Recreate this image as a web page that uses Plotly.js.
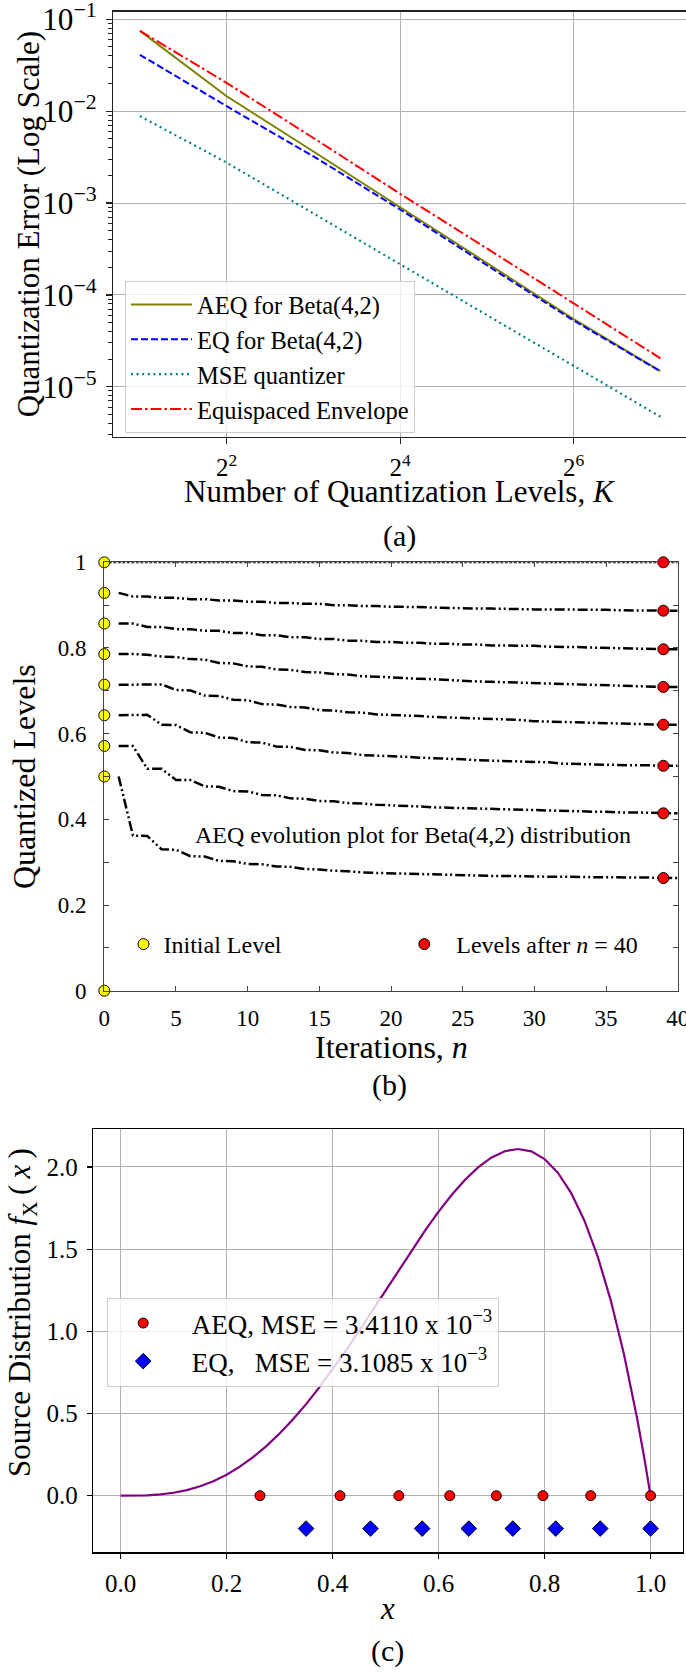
<!DOCTYPE html>
<html><head><meta charset="utf-8">
<script src="https://cdn.plot.ly/plotly-3.0.1.min.js"></script>
<style>html,body{margin:0;padding:0;background:#fff}</style>
</head><body><div id="chart" style="width:686px;height:1673px"></div>
<script>
// ---------- Panel (a): quantization error vs K ----------
const levelsK = [2, 4, 8, 16, 32, 64, 128];
const aeqError = [0.0748, 0.01453, 3.64e-3, 8.9e-4, 2.22e-4, 5.45e-5, 1.48e-5];
const eqError = [0.0411, 0.01132, 3.22e-3, 8.5e-4, 2.1e-4, 5.25e-5, 1.47e-5];
const mseError = [8.83e-3, 2.75e-3, 7.7e-4, 2.16e-4, 6.1e-5, 1.68e-5, 4.71e-6];
const envelopeError = [0.0748, 0.0203, 5.1e-3, 1.26e-3, 3.2e-4, 8.15e-5, 2.04e-5];
const kTickVals = [4, 16, 64];
const kTickText = ['2<sup>2</sup>', '2<sup>4</sup>', '2<sup>6</sup>'];
const legendA = ['AEQ for Beta(4,2)', 'EQ for Beta(4,2)', 'MSE quantizer', 'Equispaced Envelope'];

// ---------- Panel (b): AEQ evolution ----------
const iterations = [1,2,3,4,5,6,7,8,9,10,11,12,13,14,15,16,17,18,19,20,21,22,23,24,25,26,27,28,29,30,31,32,33,34,35,36,37,38,39,40];
const iterationsTop = [0,1,2,3,4,5,6,7,8,9,10,11,12,13,14,15,16,17,18,19,20,21,22,23,24,25,26,27,28,29,30,31,32,33,34,35,36,37,38,39,40];
const levelTop = [1,1,1,1,1,1,1,1,1,1,1,1,1,1,1,1,1,1,1,1,1,1,1,1,1,1,1,1,1,1,1,1,1,1,1,1,1,1,1,1,1];
const levelA = [0.9286,0.920,0.920,0.917,0.917,0.914,0.914,0.911,0.911,0.908,0.908,0.905,0.905,0.903,0.903,0.900,0.900,0.898,0.898,0.896,0.896,0.895,0.895,0.893,0.893,0.892,0.892,0.891,0.891,0.890,0.890,0.890,0.889,0.889,0.889,0.888,0.888,0.887,0.887,0.887];
const levelB = [0.857,0.857,0.849,0.849,0.844,0.844,0.840,0.840,0.835,0.835,0.830,0.830,0.825,0.825,0.821,0.821,0.817,0.817,0.814,0.814,0.812,0.812,0.810,0.810,0.808,0.808,0.806,0.806,0.805,0.805,0.803,0.803,0.802,0.801,0.800,0.799,0.798,0.798,0.797,0.797];
const levelC = [0.786,0.786,0.784,0.780,0.779,0.774,0.773,0.765,0.764,0.757,0.756,0.750,0.749,0.744,0.743,0.739,0.738,0.734,0.733,0.731,0.730,0.728,0.727,0.725,0.724,0.722,0.721,0.720,0.719,0.717,0.716,0.715,0.714,0.713,0.713,0.712,0.711,0.710,0.709,0.709];
const levelD = [0.714,0.714,0.715,0.715,0.702,0.701,0.689,0.688,0.679,0.678,0.669,0.668,0.662,0.661,0.655,0.654,0.650,0.649,0.645,0.644,0.642,0.641,0.639,0.638,0.637,0.636,0.634,0.633,0.632,0.629,0.628,0.627,0.626,0.625,0.624,0.623,0.623,0.622,0.621,0.621];
const levelE = [0.643,0.644,0.644,0.621,0.620,0.603,0.602,0.591,0.590,0.580,0.579,0.570,0.569,0.562,0.561,0.556,0.555,0.550,0.549,0.547,0.546,0.544,0.543,0.541,0.540,0.538,0.537,0.536,0.535,0.534,0.533,0.530,0.529,0.528,0.528,0.527,0.526,0.526,0.525,0.525];
const levelF = [0.571,0.571,0.518,0.518,0.492,0.492,0.477,0.476,0.466,0.465,0.457,0.456,0.449,0.448,0.443,0.442,0.438,0.437,0.434,0.433,0.431,0.430,0.428,0.427,0.426,0.425,0.424,0.423,0.422,0.421,0.420,0.420,0.419,0.418,0.418,0.416,0.416,0.415,0.414,0.414];
const levelG = [0.500,0.362,0.361,0.330,0.329,0.314,0.313,0.303,0.302,0.296,0.295,0.290,0.289,0.284,0.283,0.280,0.279,0.276,0.275,0.274,0.273,0.272,0.271,0.270,0.270,0.269,0.268,0.268,0.267,0.267,0.266,0.266,0.265,0.265,0.265,0.264,0.264,0.264,0.263,0.263];
const initialIter = [0,0,0,0,0,0,0,0,0];
const initialLevels = [0, 0.5, 0.5714, 0.6429, 0.7143, 0.7857, 0.8571, 0.9286, 1.0];
const finalIter = [39,39,39,39,39,39,39,39];
const finalLevels = [0.263, 0.414, 0.525, 0.621, 0.709, 0.797, 0.887, 1.0];
const bYTickVals = [0,0.1,0.2,0.3,0.4,0.5,0.6,0.7,0.8,0.9,1];
const bYTickText = ['0','','0.2','','0.4','','0.6','','0.8','','1'];

// ---------- Panel (c): source distribution ----------
const pdfX = [0,0.025,0.05,0.075,0.1,0.125,0.15,0.175,0.2,0.225,0.25,0.275,0.3,0.325,0.35,0.375,0.4,0.425,0.45,0.475,0.5,0.525,0.55,0.575,0.6,0.625,0.65,0.675,0.7,0.725,0.75,0.775,0.8,0.825,0.85,0.875,0.9,0.925,0.95,0.975,0.9875,1.0];
const pdfY = [0,0.0003,0.0024,0.0078,0.018,0.0342,0.0574,0.0884,0.128,0.1766,0.2344,0.3016,0.378,0.4634,0.5574,0.6592,0.768,0.8828,1.0024,1.1253,1.25,1.3747,1.4974,1.6159,1.728,1.8311,1.9224,1.9991,2.058,2.0959,2.1094,2.0947,2.048,1.9653,1.8424,1.6748,1.458,1.1872,0.8574,0.4634,0.2407,0];
const aeqLevels = [0.263, 0.414, 0.525, 0.621, 0.709, 0.797, 0.887, 1.0];
const aeqRow = [0,0,0,0,0,0,0,0];
const eqLevels = [0.350, 0.4715, 0.569, 0.657, 0.740, 0.821, 0.905, 1.0];
const eqRow = [-0.2,-0.2,-0.2,-0.2,-0.2,-0.2,-0.2,-0.2];
const legendC = ['\u00a0\u00a0AEQ, MSE = 3.4110 x 10<sup>\u22123</sup>', '\u00a0\u00a0EQ,\u00a0\u00a0\u00a0MSE = 3.1085 x 10<sup>\u22123</sup>'];

// ---------- layout helpers (pixel -> paper) ----------
const W = 686, H = 1673;
const px = v => v / W;
const py = v => 1 - v / H;
const FONT = 'Liberation Serif, Times New Roman, serif';

const traces = [
  {x: levelsK, y: aeqError, xaxis: 'x', yaxis: 'y', mode: 'lines', name: legendA[0], legend: 'legend',
   line: {color: '#808000', width: 2}},
  {x: levelsK, y: eqError, xaxis: 'x', yaxis: 'y', mode: 'lines', name: legendA[1], legend: 'legend',
   line: {color: '#0000ff', width: 2, dash: '7px,3px'}},
  {x: levelsK, y: mseError, xaxis: 'x', yaxis: 'y', mode: 'lines', name: legendA[2], legend: 'legend',
   line: {color: '#008080', width: 2.2, dash: '2px,3.6px'}},
  {x: levelsK, y: envelopeError, xaxis: 'x', yaxis: 'y', mode: 'lines', name: legendA[3], legend: 'legend',
   line: {color: '#ff0000', width: 2, dash: '11px,3px,2.5px,3px'}}
];

const dashB = '10px,3px,2px,3px,2px,3px';
traces.push({x: iterationsTop, y: levelTop, xaxis: 'x2', yaxis: 'y2', mode: 'lines', showlegend: false,
  line: {color: '#000', width: 2, dash: '3px,1.5px'}});
[levelA, levelB, levelC, levelD, levelE, levelF, levelG].forEach(lv => {
  traces.push({x: iterations, y: lv, xaxis: 'x2', yaxis: 'y2', mode: 'lines', showlegend: false,
    line: {color: '#000', width: 2.5, dash: dashB}});
});
traces.push({x: initialIter, y: initialLevels, xaxis: 'x2', yaxis: 'y2', mode: 'markers', name: 'Initial Level',
  legend: 'legend2', cliponaxis: false,
  marker: {color: '#ffff00', size: 11, line: {color: '#000', width: 1}}});
traces.push({x: finalIter, y: finalLevels, xaxis: 'x2', yaxis: 'y2', mode: 'markers', name: '\u00a0\u00a0Levels after <i>n</i> = 40',
  legend: 'legend4', cliponaxis: false,
  marker: {color: '#ff0000', size: 11, line: {color: '#000', width: 1}}});

traces.push({x: pdfX, y: pdfY, xaxis: 'x3', yaxis: 'y3', mode: 'lines', showlegend: false,
  line: {color: '#800080', width: 2.2}});
traces.push({x: aeqLevels, y: aeqRow, xaxis: 'x3', yaxis: 'y3', mode: 'markers', name: legendC[0], legend: 'legend3',
  cliponaxis: false, marker: {color: '#ff0000', size: 10, line: {color: '#000', width: 1}}});
traces.push({x: eqLevels, y: eqRow, xaxis: 'x3', yaxis: 'y3', mode: 'markers', name: legendC[1], legend: 'legend3',
  cliponaxis: false, marker: {symbol: 'diamond', color: '#0000ff', size: 12, line: {color: '#000', width: 1}}});

const gridC = '#b0b0b0';
const layout = {
  width: W, height: H, margin: {l: 0, r: 0, t: 0, b: 0, autoexpand: false},
  paper_bgcolor: '#fff', plot_bgcolor: '#fff',
  font: {family: FONT, color: '#000', size: 25},
  showlegend: true,
  xaxis: {domain: [px(113.3), 1], type: 'log', range: [0.2086, 2.1959], anchor: 'y',
    tickmode: 'array', tickvals: kTickVals, ticktext: kTickText,
    ticks: 'outside', ticklen: 6, tickcolor: '#222', tickwidth: 1.3,
    showgrid: true, gridcolor: gridC, gridwidth: 1, zeroline: false,
    showline: true, linecolor: '#222', linewidth: 1.6, mirror: true,
    tickfont: {size: 25}, ticklabelstandoff: 2, ticklabeloverflow: 'allow'},
  yaxis: {domain: [py(436.7), py(11.7)], type: 'log', range: [-5.544, -0.9173], anchor: 'x',
    dtick: 1, exponentformat: 'power',
    ticks: 'outside', ticklen: 6, tickcolor: '#222', tickwidth: 1.3,
    minor: {dtick: 'D1', ticks: 'outside', ticklen: 3.5, tickcolor: '#222', tickwidth: 1, showgrid: false},
    showgrid: true, gridcolor: gridC, gridwidth: 1, zeroline: false,
    showline: true, linecolor: '#222', linewidth: 1.6, mirror: false,
    tickfont: {size: 25}, ticklabelstandoff: 4, ticklabeloverflow: 'allow'},
  xaxis2: {domain: [px(104.3), px(677.7)], range: [0, 40], anchor: 'y2',
    tickmode: 'array', tickvals: [0,5,10,15,20,25,30,35,40],
    ticks: 'inside', ticklen: 5, tickcolor: '#444', tickwidth: 1,
    showgrid: false, zeroline: false, showline: true, linecolor: '#444', linewidth: 1.2, mirror: 'ticks',
    tickfont: {size: 23}, ticklabelstandoff: 6, ticklabeloverflow: 'allow'},
  yaxis2: {domain: [py(990.7), py(562.3)], range: [0, 1], anchor: 'x2',
    tickmode: 'array', tickvals: bYTickVals, ticktext: bYTickText,
    ticks: 'inside', ticklen: 5, tickcolor: '#444', tickwidth: 1,
    showgrid: false, zeroline: false, showline: true, linecolor: '#444', linewidth: 1.2, mirror: 'ticks',
    tickfont: {size: 23}, ticklabelstandoff: 12, ticklabeloverflow: 'allow'},
  xaxis3: {domain: [px(93.3), px(682.7)], range: [-0.0515, 1.0606], anchor: 'y3',
    tickmode: 'array', tickvals: [0, 0.2, 0.4, 0.6, 0.8, 1.0], tickformat: '.1f',
    ticks: 'outside', ticklen: 5, tickcolor: '#000', tickwidth: 1.3,
    showgrid: true, gridcolor: gridC, gridwidth: 1, zeroline: false,
    showline: true, linecolor: '#000', linewidth: 1.5, mirror: true,
    tickfont: {size: 25}, ticklabelstandoff: 3, ticklabeloverflow: 'allow'},
  yaxis3: {domain: [py(1552.3), py(1129.3)], range: [-0.3443, 2.2293], anchor: 'x3',
    tickmode: 'array', tickvals: [0, 0.5, 1.0, 1.5, 2.0], tickformat: '.1f',
    ticks: 'outside', ticklen: 5, tickcolor: '#000', tickwidth: 1.3,
    showgrid: true, gridcolor: gridC, gridwidth: 1, zeroline: false,
    showline: true, linecolor: '#000', linewidth: 1.5, mirror: true,
    tickfont: {size: 25}, ticklabelstandoff: 4, ticklabeloverflow: 'allow'},
  legend: {x: px(125), y: py(281), xanchor: 'left', yanchor: 'top', itemwidth: 61,
    bgcolor: 'rgba(255,255,255,0.8)', bordercolor: '#cccccc', borderwidth: 1,
    font: {size: 24.5, family: FONT}, tracegroupgap: 0},
  legend2: {x: px(123.5), y: py(944.5), xanchor: 'left', yanchor: 'middle',
    bgcolor: 'rgba(0,0,0,0)', borderwidth: 0, font: {size: 24, family: FONT}},
  legend4: {x: px(404.3), y: py(944.5), xanchor: 'left', yanchor: 'middle',
    bgcolor: 'rgba(0,0,0,0)', borderwidth: 0, font: {size: 24, family: FONT}},
  legend3: {x: px(107.2), y: py(1298), xanchor: 'left', yanchor: 'top', itemwidth: 60,
    bgcolor: 'rgba(255,255,255,0.8)', bordercolor: '#cccccc', borderwidth: 1,
    font: {size: 27, family: FONT}, tracegroupgap: 0},
  annotations: [
    {text: 'Quantization Error (Log Scale)', x: px(28.3), y: py(224), xref: 'paper', yref: 'paper',
     textangle: -90, showarrow: false, xanchor: 'center', yanchor: 'middle', font: {size: 31}},
    {text: 'Number of Quantization Levels, <i>K</i>', x: px(400), y: py(491.7), xref: 'paper', yref: 'paper',
     showarrow: false, xanchor: 'center', yanchor: 'middle', font: {size: 31}},
    {text: '(a)', x: px(399.4), y: py(535.7), xref: 'paper', yref: 'paper',
     showarrow: false, xanchor: 'center', yanchor: 'middle', font: {size: 30}},
    {text: 'Quantized Levels', x: px(24), y: py(777), xref: 'paper', yref: 'paper',
     textangle: -90, showarrow: false, xanchor: 'center', yanchor: 'middle', font: {size: 32}},
    {text: 'Iterations, <i>n</i>', x: px(391), y: py(1047), xref: 'paper', yref: 'paper',
     showarrow: false, xanchor: 'center', yanchor: 'middle', font: {size: 32}},
    {text: '(b)', x: px(389), y: py(1085), xref: 'paper', yref: 'paper',
     showarrow: false, xanchor: 'center', yanchor: 'middle', font: {size: 30}},
    {text: 'AEQ evolution plot for Beta(4,2) distribution', x: px(413), y: py(835), xref: 'paper', yref: 'paper',
     showarrow: false, xanchor: 'center', yanchor: 'middle', font: {size: 24}},
    {text: 'Source Distribution <i>f</i><sub>X</sub>\u2009(\u2009<i>x</i>\u2009)', x: px(22), y: py(1313), xref: 'paper', yref: 'paper',
     textangle: -90, showarrow: false, xanchor: 'center', yanchor: 'middle', font: {size: 31}},
    {text: '<i>x</i>', x: px(387), y: py(1608.6), xref: 'paper', yref: 'paper',
     showarrow: false, xanchor: 'center', yanchor: 'middle', font: {size: 31}},
    {text: '(c)', x: px(387), y: py(1651.3), xref: 'paper', yref: 'paper',
     showarrow: false, xanchor: 'center', yanchor: 'middle', font: {size: 30}}
  ]
};

Plotly.newPlot('chart', traces, layout, {displayModeBar: false, staticPlot: true});
</script></body></html>
